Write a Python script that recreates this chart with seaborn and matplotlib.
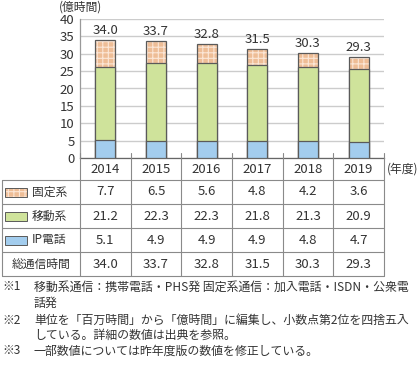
import matplotlib
matplotlib.use("Agg")
import matplotlib.pyplot as plt
import seaborn as sns
import pandas as pd
import numpy as np
from matplotlib.lines import Line2D
from matplotlib.patches import Rectangle

years = ["2014", "2015", "2016", "2017", "2018", "2019"]
fixed = [7.7, 6.5, 5.6, 4.8, 4.2, 3.6]
mobile = [21.2, 22.3, 22.3, 21.8, 21.3, 20.9]
ip = [5.1, 4.9, 4.9, 4.9, 4.8, 4.7]
total = [34.0, 33.7, 32.8, 31.5, 30.3, 29.3]
series_names = ["固定系", "移動系", "IP電話"]
total_name = "総通信時間"
yticks = [0, 5, 10, 15, 20, 25, 30, 35, 40]
note_marks = ["※1", "", "※2", "", "※3"]
note_bodies = [
    "移動系通信：携帯電話・PHS発 固定系通信：加入電話・ISDN・公衆電",
    "話発",
    "単位を「百万時間」から「億時間」に編集し、小数点第2位を四捨五入",
    "している。詳細の数値は出典を参照。",
    "一部数値については昨年度版の数値を修正している。",
]

sns.set_theme(style="white")
plt.rcParams['font.family'] = ['Noto Sans CJK JP', 'DejaVu Sans']
plt.rcParams['hatch.linewidth'] = 0.8

W, H = 420, 367
fig = plt.figure(figsize=(W / 100, H / 100), dpi=100)
fig.patch.set_facecolor("white")

def fx(x):
    return x / W

def fy(y):
    return 1 - y / H

ax_l, ax_r, ax_t, ax_b = 80, 384, 19, 158
ax = fig.add_axes([fx(ax_l), fy(ax_b), fx(ax_r - ax_l), (ax_b - ax_t) / H])

df = pd.DataFrame({"year": years, "fixed": fixed, "mobile": mobile, "ip": ip, "total": total})
df["stack_top"] = df["fixed"] + df["mobile"] + df["ip"]
df["stack_mid"] = df["mobile"] + df["ip"]

peach = "#eebd96"
hatch_c = "#fbe6d6"
green = "#cfe39b"
blue = "#a3cdee"
edge = "#5a5a5a"
txt = "#333333"
bw = 0.4

sns.barplot(data=df, x="year", y="stack_top", color=peach, width=bw, ax=ax,
            edgecolor=hatch_c, linewidth=0, hatch="+++", saturation=1, zorder=2)
sns.barplot(data=df, x="year", y="stack_top", color=edge, width=bw, ax=ax,
            fill=False, linewidth=0.9, zorder=3)
sns.barplot(data=df, x="year", y="stack_mid", color=green, width=bw, ax=ax,
            edgecolor=edge, linewidth=0.9, saturation=1, zorder=4)
sns.barplot(data=df, x="year", y="ip", color=blue, width=bw, ax=ax,
            edgecolor=edge, linewidth=0.9, saturation=1, zorder=5)

for i, t in enumerate(total):
    ax.text(i, df["stack_top"][i] + 0.8, f"{t:.1f}", ha="center", va="bottom",
            fontsize=9.5, color=txt)

ax.set_ylim(0, 40)
ax.set_xlim(-0.5, len(years) - 0.5)
ax.set_yticks(yticks)
ax.set_yticklabels([str(v) for v in yticks], fontsize=9.5, color=txt)
ax.tick_params(axis="y", length=0, pad=4)
ax.set_xticks([])
ax.set_xlabel("")
ax.set_ylabel("")
ax.yaxis.grid(True, color="#cccccc", linewidth=1.0, zorder=0)
ax.set_axisbelow(True)
for s in ["top", "right"]:
    ax.spines[s].set_visible(False)
ax.spines["left"].set_color("#999999")
ax.spines["left"].set_linewidth(0.9)
ax.spines["bottom"].set_color("#666666")
ax.spines["bottom"].set_linewidth(0.9)

fig.text(fx(59), fy(7), "(億時間)", fontsize=8.5, color=txt, va="center", ha="left")
fig.text(fx(387), fy(169), "(年度)", fontsize=8.5, color=txt, va="center", ha="left")

# table
line_c = "#8a8a8a"
lw = 0.8
col_w = (ax_r - ax_l) / len(years)
col_x = [ax_l + col_w * i for i in range(len(years) + 1)]
row_y = [158, 180, 204, 228, 252, 276]

def hline(x0, x1, y):
    fig.add_artist(Line2D([fx(x0), fx(x1)], [fy(y), fy(y)], color=line_c, lw=lw))

def vline(x, y0, y1):
    fig.add_artist(Line2D([fx(x), fx(x)], [fy(y0), fy(y1)], color=line_c, lw=lw))

for cx in col_x:
    vline(cx, 153, row_y[-1])
vline(2, row_y[1], row_y[-1])
for y in row_y[1:]:
    hline(2, ax_r, y)

for i, yr in enumerate(years):
    fig.text(fx(col_x[i] + col_w / 2), fy((row_y[0] + row_y[1]) / 2 + 1), yr,
             ha="center", va="center", fontsize=9.5, color=txt)

rows = [fixed, mobile, ip, total]
labels = series_names + [total_name]
colors = [peach, green, blue]
for r, vals in enumerate(rows):
    yc = (row_y[r + 1] + row_y[r + 2]) / 2
    for i, v in enumerate(vals):
        fig.text(fx(col_x[i] + col_w / 2), fy(yc), f"{v:.1f}",
                 ha="center", va="center", fontsize=9.5, color=txt)
    if r < 3:
        rect = (fx(5), fy(yc + 4.5))
        if r == 0:
            fig.add_artist(Rectangle(rect, fx(22), 9 / H, facecolor=colors[r],
                                     edgecolor=hatch_c, lw=0, hatch="+++"))
            fig.add_artist(Rectangle(rect, fx(22), 9 / H, facecolor="none",
                                     edgecolor=edge, lw=0.7))
        else:
            fig.add_artist(Rectangle(rect, fx(22), 9 / H, facecolor=colors[r],
                                     edgecolor=edge, lw=0.7))
        fig.text(fx(32), fy(yc), labels[r], ha="left", va="center",
                 fontsize=8.5, color=txt)
    else:
        fig.text(fx(41), fy(yc), labels[r], ha="center", va="center",
                 fontsize=8.5, color=txt)

note_y = [287, 303, 320, 335, 351]
for m, t, y in zip(note_marks, note_bodies, note_y):
    if m:
        fig.text(fx(2), fy(y), m, ha="left", va="center", fontsize=8.6, color=txt)
    fig.text(fx(34), fy(y), t, ha="left", va="center", fontsize=8.6, color=txt)

fig.savefig("out.png", dpi=100)
